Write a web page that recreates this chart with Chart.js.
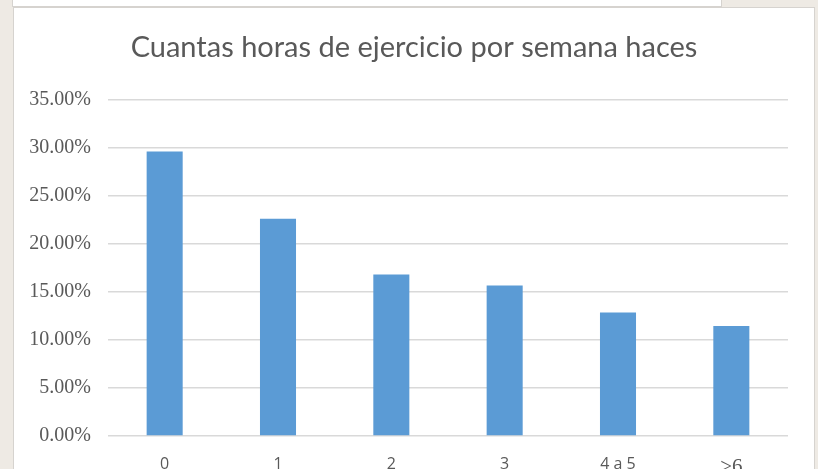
<!DOCTYPE html>
<html>
<head>
<meta charset="utf-8">
<script src="https://cdn.jsdelivr.net/npm/chart.js@4/dist/chart.umd.min.js"></script>
<style>
  html, body { margin: 0; padding: 0; }
  body { width: 818px; height: 469px; overflow: hidden; background: #EEEAE4; position: relative; }
  #topcard { position: absolute; left: 12px; top: -10px; width: 708px; height: 15px; background: #fff; border: 1px solid #D6D3CF; }
  #panel { position: absolute; left: 13px; top: 7px; width: 800px; height: 480px; background: #fff; border: 1px solid #D6D3CF; }
  #wrap { position: absolute; left: 0; top: 0; width: 818px; height: 469px; }
</style>
</head>
<body>
<div id="topcard"></div>
<div id="panel"></div>
<div id="wrap"><canvas id="c" width="818" height="469"></canvas></div>
<script>
const categories = ["0", "1", "2", "3", "4 a 5", ">6"];
const values = [29.6, 22.6, 16.8, 15.65, 12.85, 11.45];
const chartTitle = "Cuantas horas de ejercicio por semana haces";
const yMin = 0, yMax = 35, yStep = 5;

const grey = "#595959";

new Chart(document.getElementById("c"), {
  type: "bar",
  data: {
    labels: categories,
    datasets: [{
      data: values,
      backgroundColor: "#5B9BD5",
      borderWidth: 0,
      barPercentage: 0.318,
      categoryPercentage: 1.0
    }]
  },
  options: {
    responsive: false,
    animation: false,
    layout: { padding: { left: 10, right: 0, top: 0, bottom: 0 } },
    plugins: {
      legend: { display: false },
      tooltip: { enabled: false },
      title: {
        display: true,
        text: chartTitle,
        color: grey,
        font: { family: "Lato", size: 29, weight: "normal", lineHeight: 1.2 },
        padding: { top: 30, bottom: 34.7 }
      }
    },
    scales: {
      x: {
        grid: { display: false, drawTicks: false },
        border: { display: false },
        ticks: {
          color: grey,
          padding: 19,
          font: (ctx) => (ctx.index === 5
            ? { family: "Liberation Serif", size: 21 }
            : { family: "Open Sans", size: 16 })
        },
        afterFit: (s) => { s.height = 33; }
      },
      y: {
        min: yMin, max: yMax,
        grid: { color: "#D9D9D9", lineWidth: 1.5, drawTicks: false },
        border: { display: false },
        ticks: {
          stepSize: yStep,
          color: grey,
          padding: 17,
          font: { family: "Liberation Serif", size: 20 },
          callback: (v) => v.toFixed(2) + "%"
        },
        afterFit: (s) => { s.width = 98; }
      },
      yRight: {
        type: "linear",
        position: "right",
        min: yMin, max: yMax,
        grid: { display: false, drawTicks: false },
        border: { display: false },
        ticks: { display: false },
        afterFit: (s) => { s.width = 30; }
      }
    }
  }
});
</script>
</body>
</html>
